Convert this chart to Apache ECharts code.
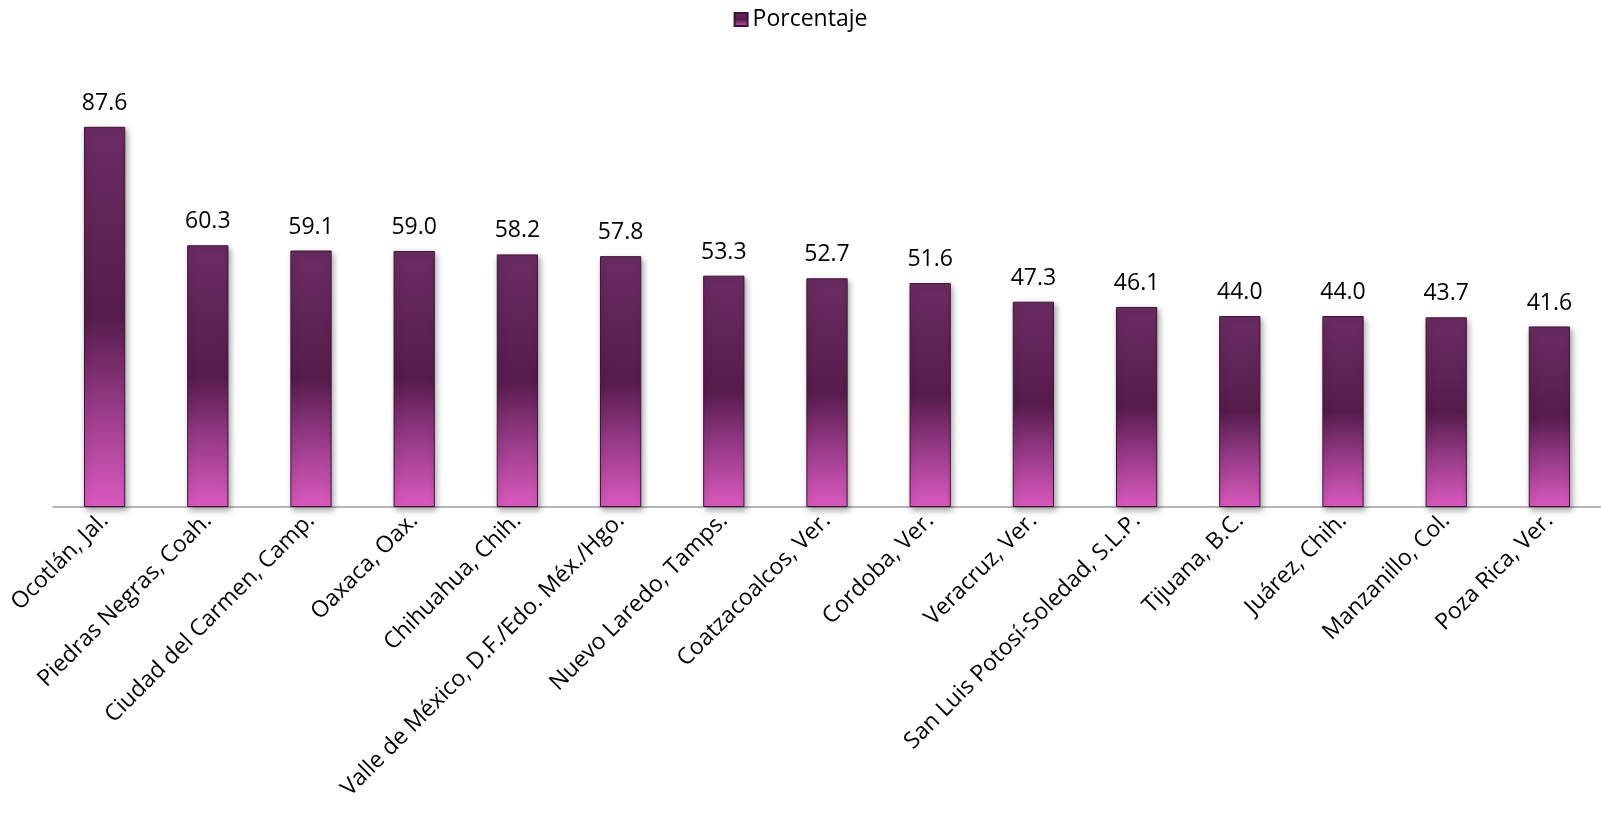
<!DOCTYPE html>
<html>
<head>
<meta charset="utf-8">
<script src="https://cdn.jsdelivr.net/npm/echarts@6/dist/echarts.min.js"></script>
<style>
  html, body { margin: 0; padding: 0; background: #ffffff; }
  #main { width: 1601px; height: 831px; }
</style>
</head>
<body>
<div id="main"></div>
<script>
var categories = ['Ocotlán, Jal.', 'Piedras Negras, Coah.', 'Ciudad del Carmen, Camp.', 'Oaxaca, Oax.',
  'Chihuahua, Chih.', 'Valle de México, D.F./Edo. Méx./Hgo.', 'Nuevo Laredo, Tamps.', 'Coatzacoalcos, Ver.',
  'Cordoba, Ver.', 'Veracruz, Ver.', 'San Luis Potosí-Soledad, S.L.P.', 'Tijuana, B.C.', 'Juárez, Chih.',
  'Manzanillo, Col.', 'Poza Rica, Ver.'];
var porcentaje = [87.6, 60.3, 59.1, 59.0, 58.2, 57.8, 53.3, 52.7, 51.6, 47.3, 46.1, 44.0, 44.0, 43.7, 41.6];
var seriesName = 'Porcentaje';

var chart = echarts.init(document.getElementById('main'));

var barFill = new echarts.graphic.LinearGradient(0, 0, 0, 1, [
  { offset: 0, color: '#6b2c62' },
  { offset: 0.5, color: '#561c4c' },
  { offset: 0.75, color: '#9a3c8a' },
  { offset: 1, color: '#da5abf' }
]);

var option = {
  backgroundColor: '#ffffff',
  animation: false,
  legend: {
    top: 3,
    left: 'center',
    icon: 'rect',
    itemWidth: 13,
    itemHeight: 13,
    itemGap: 5,
    textStyle: { fontFamily: 'Open Sans', fontSize: 23, color: '#000' },
    data: [seriesName]
  },
  grid: { left: 53, right: -3, top: 73, bottom: 324 },
  xAxis: {
    type: 'category',
    data: categories,
    axisLine: { lineStyle: { color: '#a0a0a0', width: 1.5 } },
    axisTick: { show: false },
    axisLabel: {
      rotate: 45,
      interval: 0,
      margin: 10,
      fontFamily: 'Open Sans',
      fontSize: 23,
      color: '#000'
    }
  },
  yAxis: {
    type: 'value',
    min: 0,
    max: 100,
    show: false,
    splitLine: { show: false }
  },
  series: [{
    name: seriesName,
    type: 'bar',
    data: porcentaje,
    barWidth: '40%',
    itemStyle: {
      color: barFill,
      borderColor: '#3d1236',
      borderWidth: 1,
      shadowColor: 'rgba(0,0,0,0.35)',
      shadowBlur: 6,
      shadowOffsetX: 2,
      shadowOffsetY: 3
    },
    label: {
      show: true,
      position: 'top',
      distance: 12,
      formatter: function (p) { return p.value.toFixed(1); },
      fontFamily: 'Open Sans',
      fontSize: 23,
      color: '#000'
    }
  }]
};

chart.setOption(option);
</script>
</body>
</html>
